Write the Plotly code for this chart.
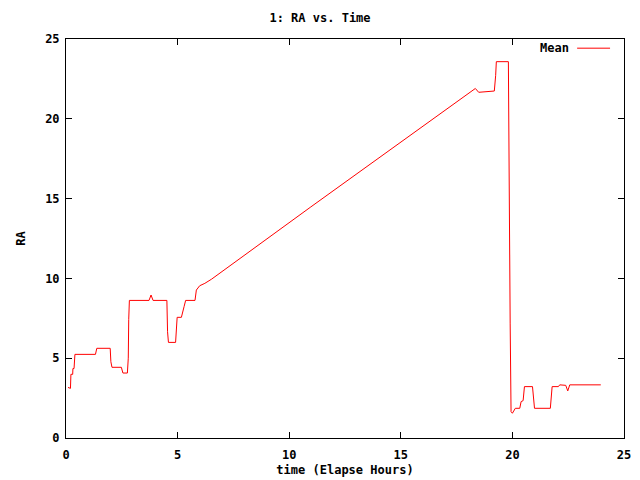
import plotly.graph_objects as go

time_hours = [0.09, 0.16, 0.20, 0.22, 0.30, 0.31, 0.36, 0.40, 1.32, 1.38, 1.98, 2.01, 2.06, 2.48,
              2.55, 2.75, 2.79, 2.81, 2.84, 3.72, 3.81, 3.90, 4.52, 4.55, 4.59, 4.91, 4.94, 4.98,
              5.17, 5.20, 5.29, 5.36, 5.78, 5.84, 5.99, 6.22, 6.52, 10.94, 15.88, 18.34, 18.49,
              19.19, 19.25, 19.28, 19.82, 19.84, 19.87, 19.90, 19.94, 20.00, 20.13, 20.33, 20.39,
              20.48, 20.54, 20.90, 20.99, 21.70, 21.78, 22.06, 22.12, 22.39, 22.48, 22.57, 23.96]
ra_mean = [3.17, 3.11, 3.11, 3.99, 3.99, 4.35, 4.35, 5.24, 5.24, 5.62, 5.62, 4.78, 4.43, 4.43,
           4.07, 4.07, 5.00, 7.43, 8.62, 8.62, 8.96, 8.62, 8.62, 6.66, 5.99, 5.99, 6.56, 7.56,
           7.56, 7.70, 8.23, 8.62, 8.62, 9.27, 9.54, 9.69, 9.95, 14.45, 19.40, 21.90, 21.66,
           21.74, 22.72, 23.58, 23.58, 18.08, 18.00, 7.20, 1.65, 1.55, 1.86, 1.86, 2.28,
           2.34, 3.22, 3.22, 1.86, 1.86, 3.22, 3.22, 3.33, 3.30, 2.95, 3.33, 3.33]

x_ticks = [0, 5, 10, 15, 20, 25]
y_ticks = [0, 5, 10, 15, 20, 25]

FONT = dict(family="DejaVu Sans Mono", size=12, color="black", weight="bold")

fig = go.Figure()
fig.add_trace(go.Scatter(x=time_hours, y=ra_mean, mode="lines", name="Mean",
                         line=dict(color="red", width=1), showlegend=False))

axis_common = dict(showgrid=False, zeroline=False, showline=True, linecolor="black",
                   linewidth=1, mirror="ticks", ticks="inside", ticklen=6,
                   tickcolor="black", tickfont=FONT, automargin=False)

fig.update_layout(
    width=640, height=480,
    paper_bgcolor="white", plot_bgcolor="white",
    margin=dict(l=66, r=16, t=39, b=42),
    title=dict(text="1: RA vs. Time", x=0.5, xanchor="center", y=1 - 18 / 480,
               yanchor="middle", font=FONT),
    xaxis=dict(range=[0, 25], tickvals=x_ticks, ticklabelstandoff=6,
               title=dict(text="time (Elapse Hours)", font=FONT, standoff=4), **axis_common),
    yaxis=dict(range=[0, 25], tickvals=y_ticks, ticklabelstandoff=3,
               title=dict(text="RA", font=FONT, standoff=16), **axis_common),
    font=FONT,
)

# gnuplot-style legend: label then line sample on the right
fig.add_annotation(xref="paper", yref="paper", x=0.905, y=0.977, text="Mean",
                   showarrow=False, xanchor="right", yanchor="middle", font=FONT)
fig.add_shape(type="line", xref="paper", yref="paper", x0=0.916, x1=0.975, y0=0.977, y1=0.977,
              line=dict(color="red", width=1))

fig.write_html("out.html", config={"displayModeBar": False},
               post_script="document.body.style.margin='0';")
